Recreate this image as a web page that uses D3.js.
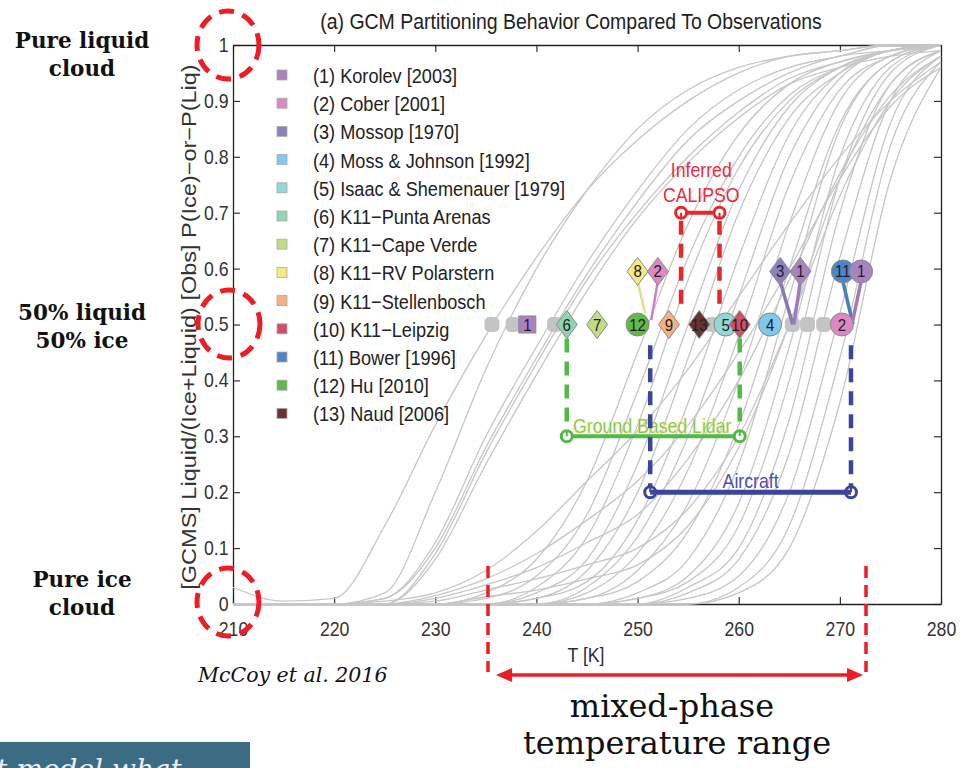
<!DOCTYPE html>
<html>
<head>
<meta charset="utf-8">
<script src="https://cdn.jsdelivr.net/npm/d3@7/dist/d3.min.js"></script>
<style>
body { margin: 0; background: #fff; }
svg { display: block; }
</style>
</head>
<body>
<div id="chart"></div>
<script>
//Temperatures (K) at which the grey GCM curves are read
var tempGrid = [210,215,220,225,230,235,240,245,250,255,260,265,270,275,280];

//Liquid fraction of each GCM at tempGrid
var gcmCurves = [
	[0.03,0.005,0.01,0.14,0.32,0.48,0.62,0.74,0.83,0.90,0.95,0.98,0.99,1,1],
	[0,0,0,0.02,0.20,0.42,0.60,0.74,0.85,0.92,0.96,0.98,0.99,1,1],
	[0,0,0,0.01,0.11,0.30,0.46,0.61,0.74,0.85,0.92,0.96,0.98,1,1],
	[0,0,0,0.01,0.10,0.28,0.44,0.59,0.72,0.83,0.90,0.95,0.98,0.99,1],
	[0,0,0,0,0.09,0.27,0.43,0.58,0.70,0.80,0.88,0.94,0.97,0.99,1],
	[0,0,0,0,0.08,0.25,0.41,0.56,0.69,0.79,0.87,0.93,0.96,0.98,0.99],
	[0,0,0,0.005,0.02,0.06,0.13,0.22,0.31,0.42,0.55,0.68,0.80,0.90,0.97],
	[0,0,0,0,0.015,0.045,0.09,0.15,0.22,0.32,0.45,0.60,0.76,0.89,0.96],
	[0,0,0,0,0.01,0.034,0.065,0.11,0.16,0.26,0.40,0.58,0.77,0.91,0.98],
	[0,0,0,0,0.005,0.025,0.045,0.07,0.10,0.17,0.30,0.50,0.73,0.90,0.98],
	[0,0,0,0,0,0.013,0.025,0.045,0.07,0.14,0.28,0.50,0.76,0.93,0.99],
	[0,0,0,0,0,0.02,0.08,0.22,0.45,0.68,0.84,0.93,0.97,0.99,1],
	[0,0,0,0,0,0.01,0.05,0.16,0.38,0.62,0.80,0.91,0.96,0.99,1],
	[0,0,0,0,0,0,0.03,0.12,0.32,0.58,0.78,0.90,0.96,0.99,1],
	[0,0,0,0,0,0,0.02,0.08,0.25,0.50,0.74,0.89,0.96,0.99,1],
	[0,0,0,0,0,0,0.01,0.06,0.20,0.44,0.70,0.87,0.95,0.99,1],
	[0,0,0,0,0,0,0.01,0.04,0.15,0.36,0.62,0.84,0.95,0.99,1],
	[0,0,0,0,0,0,0,0.03,0.12,0.30,0.55,0.80,0.94,0.99,1],
	[0,0,0,0,0,0,0,0.02,0.09,0.24,0.48,0.75,0.92,0.98,1],
	[0,0,0,0,0,0,0,0.01,0.06,0.18,0.40,0.68,0.90,0.98,1],
	[0,0,0,0,0,0,0,0.01,0.04,0.13,0.32,0.60,0.86,0.97,1],
	[0,0,0,0,0,0,0,0,0.02,0.08,0.25,0.55,0.85,0.97,1],
	[0,0,0,0,0,0,0,0,0.01,0.05,0.18,0.46,0.80,0.96,1],
	[0,0,0,0,0,0,0,0,0.01,0.04,0.14,0.40,0.76,0.95,1],
	[0,0,0,0,0,0,0,0,0,0.03,0.10,0.33,0.70,0.93,0.99],
	[0,0,0,0,0,0,0,0,0,0.02,0.08,0.27,0.62,0.90,0.99],
	[0,0,0,0,0,0,0,0,0,0.01,0.05,0.20,0.52,0.86,0.98],
	[0,0,0,0,0,0,0,0,0,0,0.03,0.14,0.44,0.82,0.97],
	[0,0,0,0,0,0,0,0,0,0,0.02,0.10,0.36,0.76,0.96]
];

//Legend
var legendNames = ['(1) Korolev [2003]', '(2) Cober [2001]', '(3) Mossop [1970]',
	'(4) Moss & Johnson [1992]', '(5) Isaac & Shemenauer [1979]', '(6) K11\u2212Punta Arenas',
	'(7) K11\u2212Cape Verde', '(8) K11\u2212RV Polarstern', '(9) K11\u2212Stellenbosch',
	'(10) K11\u2212Leipzig', '(11) Bower [1996]', '(12) Hu [2010]', '(13) Naud [2006]'];
var legendColors = ['#a982c2', '#dc88c2', '#8e80c0', '#80c8ee', '#92d8d6', '#90d2b2',
	'#c2dc84', '#f2ea86', '#f5b183', '#d04e68', '#4b86c8', '#62b84a', '#6a3232'];

//Observations: source number, temperature of the 50% point, plotted level, marker shape
var obsSource = [1, 6, 7, 12, 9, 13, 5, 10, 4, 2, 8, 2, 3, 1, 11, 1];
var obsTemps = [239.1, 243.0, 246.0, 250.0, 253.1, 256.1, 258.7, 260.1, 263.1, 270.2,
	250.0, 252.0, 264.1, 266.1, 270.3, 272.1];
var obsLevels = [0.5, 0.5, 0.5, 0.5, 0.5, 0.5, 0.5, 0.5, 0.5, 0.5,
	0.595, 0.595, 0.595, 0.595, 0.595, 0.595];
var obsShapes = ['square', 'diamond', 'diamond', 'circle', 'diamond', 'diamond', 'circle', 'diamond', 'circle', 'circle',
	'diamond', 'diamond', 'diamond', 'diamond', 'circle', 'circle'];

//Grey markers hidden behind the others on the 50% row
var hiddenTemps = [235.6, 237.7, 241.8, 257.4, 265.3, 266.8, 268.4];

//Stems from the raised markers down to their true 50% point
var linkFrom = [10, 11, 12, 13, 14, 15];
var linkToTemps = [250.75, 251.35, 265.35, 265.45, 271.3, 271.25];
var linkToLevels = [0.52, 0.508, 0.5, 0.5, 0.5, 0.505];

//Observation type ranges
var rangeNames = [['Inferred', 'CALIPSO'], ['Ground Based Lidar'], ['Aircraft']];
var rangeLow = [254.3, 243.0, 251.25];
var rangeHigh = [258.1, 260.1, 271.1];
var rangeLevel = [0.70, 0.30, 0.20];
var rangeDropTo = [0.53, 0.475, 0.463];
var rangeColors = ['#e8262e', '#52b947', '#3d449c'];

var xTicks = [210, 220, 230, 240, 250, 260, 270, 280];
var yTicks = [0, 0.1, 0.2, 0.3, 0.4, 0.5, 0.6, 0.7, 0.8, 0.9, 1];

var sansFont = '"Liberation Sans", Arial, Helvetica, sans-serif';
var serifFont = '"DejaVu Serif", "Liberation Serif", serif';
var squish = 0.885;

var svg = d3.select('#chart').append('svg')
	.attr('width', 965)
	.attr('height', 768);

var x = d3.scaleLinear().domain([210, 280]).range([233, 941]);
var y = d3.scaleLinear().domain([0, 1]).range([604, 45]);

//narrow chart text, like the squeezed figure
function chartText(g, px, py, str, size, anchor, colour) {
	return g.append('text')
		.attr('transform', 'translate(' + px + ',' + py + ') scale(' + squish + ',1)')
		.attr('text-anchor', anchor)
		.attr('font-family', sansFont)
		.attr('font-size', size)
		.attr('fill', colour)
		.text(str);
}

//Axes
var axisGroup = svg.append('g');

var xAxis = axisGroup.append('g')
	.attr('transform', 'translate(0,604)')
	.call(d3.axisBottom(x).tickValues(xTicks).tickSize(-7).tickSizeOuter(0).tickPadding(18));
var topAxis = axisGroup.append('g')
	.attr('transform', 'translate(0,45)')
	.call(d3.axisTop(x).tickValues(xTicks).tickSize(-7).tickSizeOuter(0).tickFormat(''));
var yAxis = axisGroup.append('g')
	.attr('transform', 'translate(233,0)')
	.call(d3.axisLeft(y).tickValues(yTicks).tickSize(-7).tickSizeOuter(0).tickPadding(5)
		.tickFormat(function(d) { return d === 0 ? '0' : d === 1 ? '1' : d3.format('.1f')(d); }));
var rightAxis = axisGroup.append('g')
	.attr('transform', 'translate(941,0)')
	.call(d3.axisRight(y).tickValues(yTicks).tickSize(-7).tickSizeOuter(0).tickFormat(''));

axisGroup.selectAll('.domain').attr('stroke', '#222').attr('stroke-width', 1.3);
axisGroup.selectAll('.tick line').attr('stroke', '#222').attr('stroke-width', 1.1);
axisGroup.selectAll('.tick text')
	.attr('font-family', sansFont)
	.attr('font-size', 20)
	.attr('fill', '#333')
	.attr('transform', 'scale(' + squish + ',1)');
xAxis.selectAll('.tick text').attr('x', 0);

//Grey GCM curves
var curveLine = d3.line()
	.x(function(d, i) { return x(tempGrid[i]); })
	.y(function(d) { return y(d); })
	.curve(d3.curveMonotoneX);

svg.append('g').selectAll('path')
	.data(gcmCurves)
	.enter()
	.append('path')
	.attr('d', curveLine)
	.attr('fill', 'none')
	.attr('stroke', '#c6c6c6')
	.attr('stroke-width', 1.3);

//Title and axis labels
chartText(svg, 571, 29, '(a) GCM Partitioning Behavior Compared To Observations', 22, 'middle', '#222');
chartText(svg, 586, 662, 'T [K]', 20, 'middle', '#2a2a3a');
svg.append('text')
	.attr('transform', 'translate(196,327) rotate(-90) scale(1,0.84)')
	.attr('text-anchor', 'middle')
	.attr('font-family', sansFont)
	.attr('font-size', 23.5)
	.attr('fill', '#333')
	.text('[GCMS] Liquid/(Ice+Liquid) [Obs] P(Ice)\u2212or\u2212P(Liq)');

//Legend
var legendGroup = svg.append('g');
legendNames.forEach(function(name, i) {
	var rowY = 75 + i * 28.2;
	legendGroup.append('rect')
		.attr('x', 277)
		.attr('y', rowY - 5)
		.attr('width', 10)
		.attr('height', 10)
		.attr('fill', legendColors[i])
		.attr('stroke', '#aaa')
		.attr('stroke-width', 0.8);
	chartText(legendGroup, 313, rowY + 8, name, 20.5, 'start', '#222');
});

//Range bars
var rangeGroup = svg.append('g');
rangeNames.forEach(function(name, i) {
	var x0 = x(rangeLow[i]);
	var x1 = x(rangeHigh[i]);
	var yb = y(rangeLevel[i]);
	var yd = y(rangeDropTo[i]);
	var col = rangeColors[i];
	var dropTop = Math.min(yb, yd);
	var dropBottom = Math.max(yb, yd);

	[x0, x1].forEach(function(px) {
		rangeGroup.append('line')
			.attr('x1', px).attr('x2', px)
			.attr('y1', i === 0 ? dropTop + 8 : dropTop)
			.attr('y2', i === 0 ? dropBottom : dropBottom - 6)
			.attr('stroke', col)
			.attr('stroke-width', 4.5)
			.attr('stroke-dasharray', '14,9');
	});

	rangeGroup.append('line')
		.attr('x1', x0).attr('x2', x1)
		.attr('y1', yb).attr('y2', yb)
		.attr('stroke', col)
		.attr('stroke-width', i === 2 ? 5 : 4);

	[x0, x1].forEach(function(px) {
		rangeGroup.append('circle')
			.attr('cx', px)
			.attr('cy', yb)
			.attr('r', 5.5)
			.attr('fill', '#fff')
			.attr('stroke', col)
			.attr('stroke-width', 3);
		rangeGroup.append('line')
			.attr('x1', px).attr('x2', px)
			.attr('y1', i === 0 ? yb : yb - 5).attr('y2', i === 0 ? yb + 5 : yb)
			.attr('stroke', col)
			.attr('stroke-width', 2);
	});

	var mid = (x0 + x1) / 2;
	if (i === 0) {
		chartText(rangeGroup, mid + 1, yb - 36, name[0], 20, 'middle', '#ee2a3a');
		chartText(rangeGroup, mid + 1, yb - 11, name[1], 20, 'middle', '#ee2a3a');
	} else if (i === 1) {
		chartText(rangeGroup, mid - 1, yb - 3, name[0], 20, 'middle', '#5fba48')
			.attr('stroke', '#dfe67a')
			.attr('stroke-width', 0.6);
	} else {
		chartText(rangeGroup, mid, yb - 4, name[0], 20, 'middle', '#4a4fa8');
	}
});

//Aircraft dashes sit over the lidar bar
rangeGroup.selectAll('line').filter(function() { return d3.select(this).attr('stroke') === rangeColors[2]; }).raise();

//Hidden grey markers
svg.append('g').selectAll('rect')
	.data(hiddenTemps)
	.enter()
	.append('rect')
	.attr('x', function(d) { return x(d) - 7.5; })
	.attr('y', y(0.5) - 7.5)
	.attr('width', 15)
	.attr('height', 15)
	.attr('rx', 5)
	.attr('fill', '#c3c4c6');

//Stems to the raised markers
svg.append('g').selectAll('line')
	.data(linkFrom)
	.enter()
	.append('line')
	.attr('x1', function(d) { return x(obsTemps[d]); })
	.attr('y1', function(d) { return y(obsLevels[d]) + 10; })
	.attr('x2', function(d, i) { return x(linkToTemps[i]); })
	.attr('y2', function(d, i) { return y(linkToLevels[i]); })
	.attr('stroke', function(d) { return d3.color(legendColors[obsSource[d] - 1]).darker(0.15); })
	.attr('stroke-width', function(d, i) { return i < 2 ? 2.5 : 3.5; });

//Observation markers
var obsGroup = svg.append('g');
obsSource.forEach(function(src, i) {
	var g = obsGroup.append('g')
		.attr('transform', 'translate(' + x(obsTemps[i]) + ',' + y(obsLevels[i]) + ')');
	var fillCol = legendColors[src - 1];
	if (obsShapes[i] === 'square') {
		g.append('rect')
			.attr('x', -8.5).attr('y', -8.5)
			.attr('width', 17).attr('height', 17)
			.attr('fill', fillCol).attr('stroke', '#8a8a8a').attr('stroke-width', 1);
	} else if (obsShapes[i] === 'diamond') {
		g.append('path')
			.attr('d', 'M0,-14L10.5,0L0,14L-10.5,0Z')
			.attr('fill', fillCol).attr('stroke', '#8a8a8a').attr('stroke-width', 1);
	} else {
		g.append('circle')
			.attr('r', 11.5)
			.attr('fill', fillCol).attr('stroke', '#8a8a8a').attr('stroke-width', 1);
	}
	chartText(g, 0, 6, String(src), 17, 'middle', '#222');
});

//Slide annotations
var noteGroup = svg.append('g');
var sideNotes = [['Pure liquid', 'cloud'], ['50% liquid', '50% ice'], ['Pure ice', 'cloud']];
var sideNoteY = [48, 320, 587];
sideNotes.forEach(function(lines, i) {
	lines.forEach(function(txt, j) {
		noteGroup.append('text')
			.attr('x', 82)
			.attr('y', sideNoteY[i] + j * 28)
			.attr('text-anchor', 'middle')
			.attr('font-family', serifFont)
			.attr('font-weight', 'bold')
			.attr('font-size', 21.5)
			.attr('fill', '#111')
			.text(txt);
	});
});

var circleCentres = [[228, 45], [229, 324], [228, 602]];
circleCentres.forEach(function(c) {
	noteGroup.append('ellipse')
		.attr('cx', c[0])
		.attr('cy', c[1])
		.attr('rx', 31)
		.attr('ry', 34)
		.attr('fill', 'none')
		.attr('stroke', '#ee1c24')
		.attr('stroke-width', 5)
		.attr('stroke-dasharray', '15,9');
});

noteGroup.append('text')
	.attr('x', 198)
	.attr('y', 682)
	.attr('font-family', serifFont)
	.attr('font-style', 'italic')
	.attr('font-size', 20.5)
	.attr('fill', '#111')
	.text('McCoy et al. 2016');

[488, 866].forEach(function(px) {
	noteGroup.append('line')
		.attr('x1', px).attr('x2', px)
		.attr('y1', 566).attr('y2', 672)
		.attr('stroke', '#ee1c24')
		.attr('stroke-width', 3.5)
		.attr('stroke-dasharray', '12,7');
});

noteGroup.append('line')
	.attr('x1', 505).attr('x2', 850)
	.attr('y1', 675).attr('y2', 675)
	.attr('stroke', '#ee1c24')
	.attr('stroke-width', 3.5);
noteGroup.append('path')
	.attr('d', 'M496,675L512,668L512,682Z M863,675L847,668L847,682Z')
	.attr('fill', '#ee1c24');

noteGroup.append('text')
	.attr('x', 672)
	.attr('y', 717)
	.attr('text-anchor', 'middle')
	.attr('font-family', serifFont)
	.attr('font-size', 32)
	.attr('fill', '#111')
	.text('mixed-phase');
noteGroup.append('text')
	.attr('x', 677)
	.attr('y', 754)
	.attr('text-anchor', 'middle')
	.attr('font-family', serifFont)
	.attr('font-size', 32)
	.attr('fill', '#111')
	.text('temperature range');

//cut-off box in the lower left corner
noteGroup.append('rect')
	.attr('x', 0)
	.attr('y', 742)
	.attr('width', 250)
	.attr('height', 30)
	.attr('fill', '#3c6c84');
noteGroup.append('text')
	.attr('x', -4)
	.attr('y', 779)
	.attr('font-family', serifFont)
	.attr('font-style', 'italic')
	.attr('font-size', 28)
	.attr('fill', '#e8eef2')
	.text('t model what');
</script>
</body>
</html>
